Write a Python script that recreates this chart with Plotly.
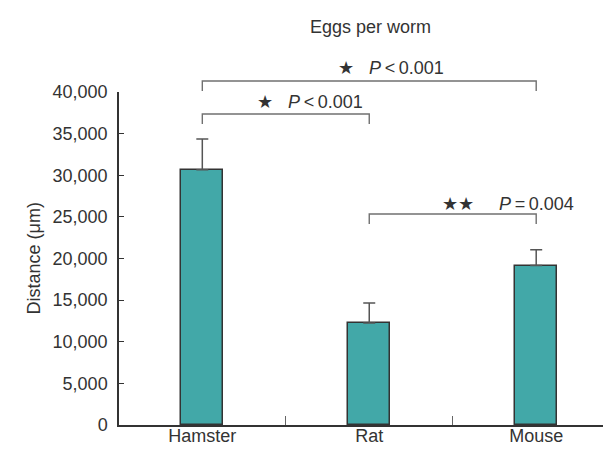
import plotly.graph_objects as go

categories = ["Hamster", "Rat", "Mouse"]
means = [30650, 12250, 19150]
errors = [3700, 2400, 1900]
y_ticks = [0, 5000, 10000, 15000, 20000, 25000, 30000, 35000, 40000]
y_ticklabels = ["0", "5,000", "10,000", "15,000", "20,000", "25,000", "30,000", "35,000", "40,000"]

# pairwise comparisons shown as brackets
comp_from = [0, 0, 1]
comp_to = [2, 1, 2]
comp_level = [41320, 37360, 25350]
comp_drop = [40120, 36160, 24150]
comp_text_y = [42900, 38800, 26600]
comp_text_x = [1.133, 0.645, 1.83]
comp_stars = ["★", "★", "★★"]
comp_gap = ["\u00a0\u00a0\u00a0", "\u00a0\u00a0\u00a0", "\u00a0\u00a0\u00a0\u00a0\u00a0"]
comp_p = ["<i>P</i>\u2009<\u20090.001", "<i>P</i>\u2009<\u20090.001", "<i>P</i>\u2009=\u20090.004"]

Y_MAX = 40000
x_pos = list(range(len(categories)))

FONT = "Liberation Sans, Arial, sans-serif"
TXT = "#333333"
W, H = 611, 449
L, R, T, B = 111, 1, 84, 32

fig = go.Figure()
fig.add_trace(go.Bar(
    x=x_pos, y=means, width=0.25,
    marker=dict(color="#42a8a8", line=dict(color="#333333", width=1.5)),
    error_y=dict(type="data", symmetric=False, array=errors,
                 arrayminus=[0] * len(errors), color="#555555",
                 thickness=1.5, width=6),
    showlegend=False,
))

def py(v):
    return v / Y_MAX

shapes = []
annotations = []
for a, b, lvl, drop, ty, st, gp, pt, tx in zip(comp_from, comp_to, comp_level, comp_drop,
                                              comp_text_y, comp_stars, comp_gap, comp_p, comp_text_x):
    shapes.append(dict(type="path", xref="x", yref="paper",
                       path=f"M {a},{py(drop)} L {a},{py(lvl)} L {b},{py(lvl)} L {b},{py(drop)}",
                       line=dict(color="#707070", width=1.4)))
    annotations.append(dict(xref="x", yref="paper", x=tx, y=py(ty),
                            text=f"{st}{gp}{pt}", showarrow=False,
                            font=dict(family=FONT, size=18, color=TXT),
                            xanchor="center", yanchor="middle"))

# y-axis title as a rotated annotation
annotations.append(dict(xref="paper", yref="paper", x=(25 - L) / (W - L - R), y=0.5,
                        text="Distance (μm)", textangle=-90, showarrow=False,
                        font=dict(family=FONT, size=18, color=TXT),
                        xanchor="center", yanchor="middle"))

fig.update_layout(
    width=W, height=H,
    margin=dict(l=L, r=R, t=T, b=B),
    paper_bgcolor="white", plot_bgcolor="white",
    font=dict(family=FONT, size=18, color=TXT),
    title=dict(text="Eggs per worm", x=0.504, xref="paper", xanchor="center",
               y=1 - 19 / H, yanchor="middle",
               font=dict(family=FONT, size=18, color=TXT)),
    shapes=shapes,
    annotations=annotations,
    bargap=0,
)
fig.update_xaxes(
    range=[-0.499, 2.49], tickvals=x_pos, ticktext=categories,
    ticks="", showline=True, linecolor="#333333", linewidth=1.5,
    showgrid=False, zeroline=False,
    ticklabelstandoff=-6,
    minor=dict(tick0=0.5, dtick=1, ticks="inside", ticklen=9,
               tickcolor="#666666", tickwidth=1, showgrid=False),
    tickfont=dict(family=FONT, size=18, color=TXT),
)
fig.update_yaxes(
    range=[0, Y_MAX], tickvals=y_ticks, ticktext=y_ticklabels,
    ticks="inside", ticklen=5, tickcolor="#333333",
    showline=True, linecolor="#333333", linewidth=1.5,
    showgrid=False, zeroline=False,
    ticklabelstandoff=6,
    tickfont=dict(family=FONT, size=18, color=TXT),
)

fig.write_html("out.html")
